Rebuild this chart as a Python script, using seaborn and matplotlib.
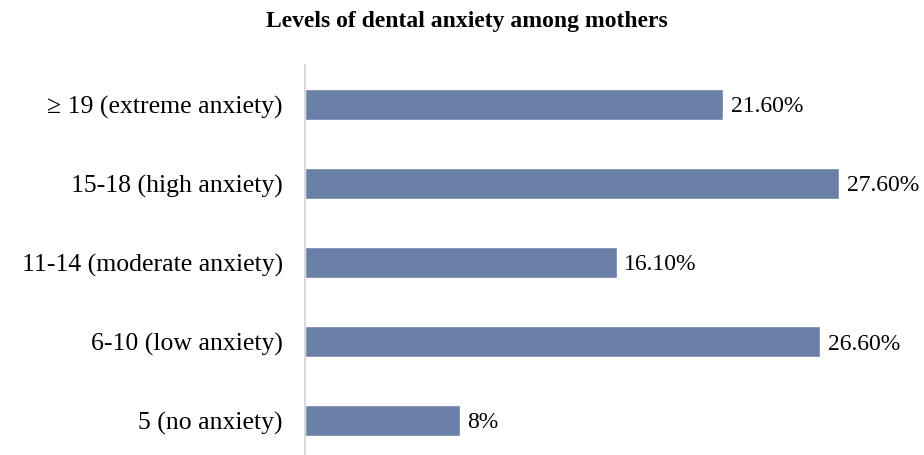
import matplotlib
matplotlib.use("Agg")
import matplotlib.pyplot as plt
import seaborn as sns
import pandas as pd

categories = ["≥ 19 (extreme anxiety)", "15-18 (high anxiety)", "11-14 (moderate anxiety)",
              "6-10 (low anxiety)", "5 (no anxiety)"]
values = [21.6, 27.6, 16.1, 26.6, 8.0]
labels = ["21.60%", "27.60%", "16.10%", "26.60%", "8%"]

sns.set_theme(style="white")
plt.rcParams['font.family'] = ['Liberation Serif', 'DejaVu Serif']

df = pd.DataFrame({"cat": categories, "val": values})
fig = plt.figure(figsize=(9.24, 4.55), dpi=100)
ax = fig.add_axes([305/924, -5/455, 600/924, 395/455])
sns.barplot(data=df, x="val", y="cat", orient="h", color="#6A80A8", width=0.4,
            saturation=1, ax=ax)
for patch, lab in zip(ax.patches, labels):
    ax.text(patch.get_width() + 0.4, patch.get_y() + patch.get_height() / 2, lab,
            va="center_baseline", ha="left", fontsize=17, color="black")
ax.set_xlim(0, 31)
ax.set_ylim(4.5, -0.5)
ax.set_xlabel("")
ax.set_ylabel("")
ax.set_xticks([])
for s in ["top", "right", "bottom"]:
    ax.spines[s].set_visible(False)
ax.spines["left"].set_color("#D9D9D9")
ax.spines["left"].set_linewidth(1.5)
ax.tick_params(axis="y", length=0, pad=16, labelsize=18.5, labelcolor="black")
fig.text(467/924, 1 - 22/455, "Levels of dental anxiety among mothers", ha="center", va="center",
         fontsize=17, fontweight="bold", color="black")
fig.savefig("out.png", dpi=100)
